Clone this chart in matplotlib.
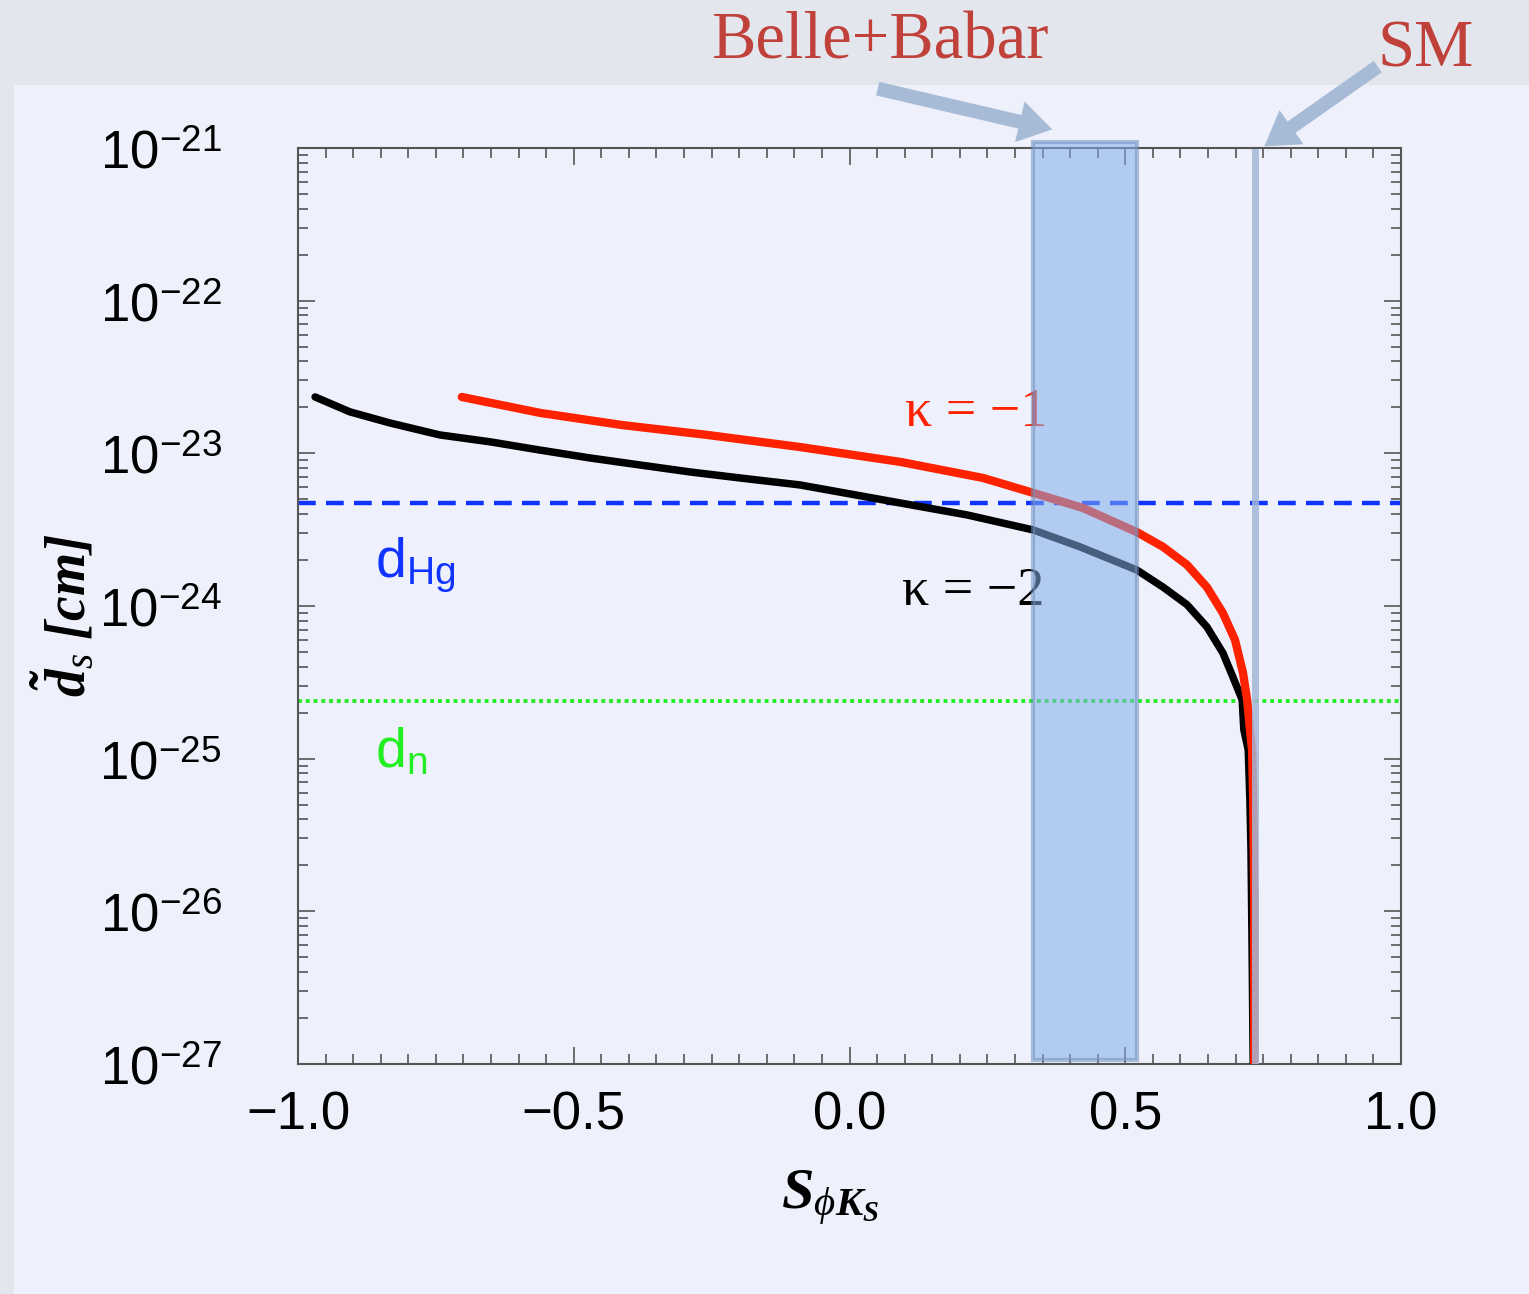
import matplotlib
matplotlib.use('Agg')
import matplotlib.pyplot as plt
from matplotlib.patches import Rectangle, FancyArrowPatch
from matplotlib.ticker import LogLocator, MultipleLocator, NullFormatter

plt.rcParams['mathtext.fontset'] = 'custom'
plt.rcParams['mathtext.rm'] = 'Liberation Sans'
plt.rcParams['mathtext.it'] = 'Liberation Serif:italic'
plt.rcParams['mathtext.bf'] = 'Liberation Serif:italic:bold'

# curve kappa = -2 (black)
k2_x = [-0.969, -0.906, -0.833, -0.743, -0.652, -0.561, -0.471, -0.380, -0.289,
        -0.199, -0.090, 0.092, 0.213, 0.333, 0.418, 0.521, 0.5685, 0.612, 0.648,
        0.677, 0.695, 0.712, 0.715, 0.723, 0.726, 0.728, 0.730, 0.732]
k2_y = [2.34e-23, 1.87e-23, 1.58e-23, 1.32e-23, 1.19e-23, 1.05e-23, 9.33e-24,
        8.39e-24, 7.55e-24, 6.90e-24, 6.21e-24, 4.73e-24, 3.95e-24, 3.15e-24,
        2.44e-24, 1.72e-24, 1.33e-24, 1.02e-24, 7.3e-25, 4.93e-25, 3.44e-25,
        2.43e-25, 1.55e-25, 1.14e-25, 5.37e-26, 2.53e-26, 5.6e-27, 1.0e-27]

# curve kappa = -1 (red)
k1_x = [-0.703, -0.561, -0.411, -0.258, -0.090, 0.092, 0.242, 0.333, 0.423,
        0.521, 0.5685, 0.612, 0.648, 0.677, 0.699, 0.7135, 0.721, 0.726, 0.730,
        0.732, 0.734, 0.734]
k1_y = [2.34e-23, 1.84e-23, 1.53e-23, 1.32e-23, 1.10e-23, 8.79e-24, 6.90e-24,
        5.51e-24, 4.39e-24, 3.05e-24, 2.44e-24, 1.86e-24, 1.33e-24, 9.0e-25,
        6.0e-25, 3.65e-25, 2.43e-25, 1.55e-25, 1.14e-25, 5.37e-26, 1.19e-26, 1.0e-27]

d_hg = 4.73e-24
d_n = 2.4e-25
band = [0.333, 0.521]   # Belle+Babar
s_sm = 0.736

xticks = [-1.0, -0.5, 0.0, 0.5, 1.0]
xticklabels = ['\u22121.0', '\u22120.5', '0.0', '0.5', '1.0']
yticks = [1e-27, 1e-26, 1e-25, 1e-24, 1e-23, 1e-22, 1e-21]
yticklabels = [r'$10^{-27}$', r'$10^{-26}$', r'$10^{-25}$', r'$10^{-24}$',
               r'$10^{-23}$', r'$10^{-22}$', r'$10^{-21}$']

W, H = 1529, 1294
fig = plt.figure(figsize=(W / 100, H / 100), dpi=100, facecolor='#e3e7ed')

# pale slide panel behind the plot
panel = Rectangle((14 / W, 0), 1, (H - 85) / H, transform=fig.transFigure,
                  facecolor='#eef1fb', edgecolor='none', zorder=-10)
fig.patches.append(panel)

ax = fig.add_axes([298 / W, 230 / H, 1103 / W, 916 / H])
ax.set_zorder(1)
ax.set_facecolor('none')
ax.set_yscale('log')
ax.set_xlim(-1, 1)
ax.set_ylim(1e-27, 1e-21)

ax.axhline(d_hg, color='#1133ff', lw=3.2, dashes=(4.0, 2.3), zorder=2)
ax.axhline(d_n, color='#22ee22', lw=2.8, dashes=(1.0, 1.0), zorder=2)

ax.plot(k2_x, k2_y, color='black', lw=5.4, solid_capstyle='round',
        solid_joinstyle='round', zorder=3)
ax.plot(k1_x, k1_y, color='#ff2200', lw=6, solid_capstyle='round',
        solid_joinstyle='round', zorder=3)

ax.text(0.225, 1.24e-24, '\u03ba = \u22122', color='black', fontsize=39,
        family='Liberation Serif', ha='center', va='center', zorder=4)
ax.text(0.23, 1.84e-23, '\u03ba = \u22121', color='#ff2200', fontsize=39,
        family='Liberation Serif', ha='center', va='center', zorder=4)
ax.text(-0.86, 1.55e-24, r'd$_{\mathrm{Hg}}$', color='#1133ff', fontsize=40,
        family='Liberation Sans', ha='left', va='baseline', zorder=4)
ax.text(-0.86, 8.8e-26, r'd$_{\mathrm{n}}$', color='#22ee22', fontsize=40,
        family='Liberation Sans', ha='left', va='baseline', zorder=4)

# experimental band and SM value
span = ax.axvspan(band[0], band[1], ymin=0.004, ymax=1.007, facecolor='#82ace9',
                  alpha=0.55, edgecolor='#6f8fbd', lw=3, zorder=5)
span.set_clip_on(False)
ax.axvline(s_sm, ymin=0.0, ymax=0.9956, color='#a3b6d6', lw=5, alpha=0.85, zorder=5)

ax.set_xticks(xticks)
ax.set_xticklabels(xticklabels, fontsize=38, family='Liberation Sans')
ax.set_yticks(yticks)
ax.set_yticklabels(yticklabels, fontsize=38)
ax.xaxis.set_minor_locator(MultipleLocator(0.05))
ax.yaxis.set_minor_locator(LogLocator(base=10, subs=range(2, 10), numticks=20))
ax.yaxis.set_minor_formatter(NullFormatter())
ax.tick_params(which='both', direction='in', top=True, right=True, color='#555555', width=1.2)
ax.tick_params(which='major', length=12)
ax.tick_params(which='minor', length=7)
ax.tick_params(axis='x', which='major', pad=19)
ax.tick_params(axis='y', which='major', pad=55)
for sp in ax.spines.values():
    sp.set_color('#555555')
    sp.set_linewidth(1.5)

fig.text(65 / W, 1 - 615 / H, r'$\mathbf{\tilde{d}}_{s}\ \mathbf{[cm]}$', rotation=90,
         fontsize=40, ha='center', va='center')
fig.text(830 / W, 1 - 1198 / H, r'$\mathbf{S}_{\phi \mathbf{K}_{\mathbf{S}}}$',
         fontsize=42, ha='center', va='center')

# annotations above the plot
fig.text(880 / W, 1 - 42 / H, 'Belle+Babar', color='#c0403a', fontsize=48,
         family='Liberation Serif', ha='center', va='center')
fig.text(1426 / W, 1 - 50 / H, 'SM', color='#c0403a', fontsize=48,
         family='Liberation Serif', ha='center', va='center')
for (x0, y0), (x1, y1) in [((875, 88), (1055, 130)), ((1380, 65), (1262, 148))]:
    fig.patches.append(FancyArrowPatch((x0 / W, 1 - y0 / H), (x1 / W, 1 - y1 / H),
                                       transform=fig.transFigure,
                                       arrowstyle='simple,head_length=1.2,head_width=1.5,tail_width=0.5',
                                       mutation_scale=20, color='#a7bad6', lw=0, zorder=6))

fig.savefig('out.png', dpi=100, facecolor=fig.get_facecolor())
